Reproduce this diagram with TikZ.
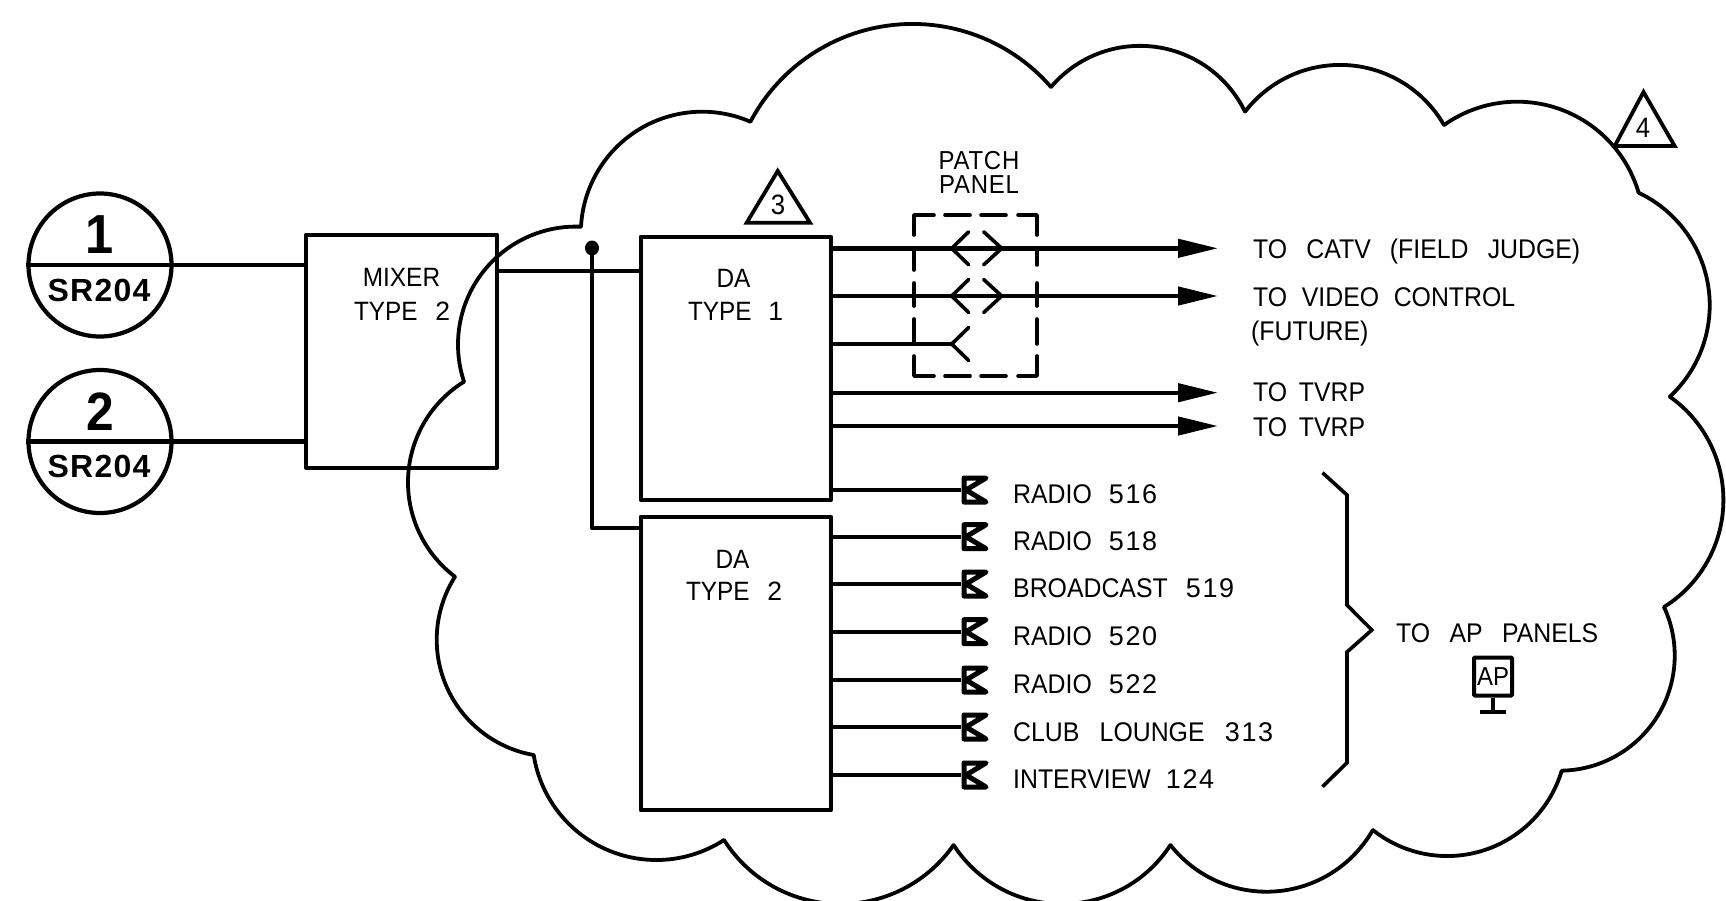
\documentclass[tikz,border=0pt]{standalone}
\usepackage{fontspec}
\usetikzlibrary{arrows.meta,calc}
\setmainfont[FakeStretch=0.92]{Liberation Sans}
\newfontfamily\digitfont[LetterSpace=6]{Liberation Sans}
\newfontfamily\srfont[LetterSpace=4]{Liberation Sans}
\newcommand{\gp}{\hspace{0pt plus 1fil minus 1fil}}
\newcommand{\fit}[2]{\makebox[#1pt][s]{#2}}
\newcommand{\dg}[1]{{\digitfont #1}}
\tikzset{
  x=1pt,y=-1pt,
  wire/.style={line width=4.4pt},
  boxnode/.style={draw,line width=4.2pt,rectangle,inner sep=0pt,anchor=north west,line join=round},
  lab/.style={font=\fontsize{27}{27}\selectfont,inner sep=0pt,anchor=base west,text=black},
  clab/.style={font=\fontsize{26.5}{26.5}\selectfont,inner sep=0pt,anchor=base,text=black},
  cloudline/.style={line width=3.8pt,line cap=round,line join=round},
  arrowed/.style={wire,-{Triangle[length=40pt,width=18pt]}},
  tri/.style={line width=3.8pt,line join=miter},
  pp/.style={line width=3.6pt,line cap=round,line join=round},
  jack/.style={line width=5pt,line cap=round,line join=round}
}
% circular arc through three points (px)
\newcommand{\cloudarc}[6]{%
  \pgfmathsetmacro{\bxr}{(#3-#1)/100}\pgfmathsetmacro{\byr}{(#4-#2)/100}%
  \pgfmathsetmacro{\cxr}{(#5-#1)/100}\pgfmathsetmacro{\cyr}{(#6-#2)/100}%
  \pgfmathsetmacro{\dt}{2*(\bxr*\cyr-\byr*\cxr)}%
  \pgfmathsetmacro{\bb}{\bxr*\bxr+\byr*\byr}\pgfmathsetmacro{\cc}{\cxr*\cxr+\cyr*\cyr}%
  \pgfmathsetmacro{\ux}{(\cyr*\bb-\byr*\cc)/\dt}\pgfmathsetmacro{\uy}{(\bxr*\cc-\cxr*\bb)/\dt}%
  \pgfmathsetmacro{\rr}{100*sqrt(\ux*\ux+\uy*\uy)}%
  \pgfmathsetmacro{\ctx}{#1+100*\ux}\pgfmathsetmacro{\cty}{#2+100*\uy}%
  \pgfmathsetmacro{\aa}{atan2(#2-\cty,#1-\ctx)}%
  \pgfmathsetmacro{\am}{atan2(#4-\cty,#3-\ctx)}%
  \pgfmathsetmacro{\ab}{atan2(#6-\cty,#5-\ctx)}%
  \pgfmathsetmacro{\dm}{mod(\am-\aa+720,360)}\pgfmathsetmacro{\db}{mod(\ab-\aa+720,360)}%
  \pgfmathsetmacro{\ae}{\dm<\db ? \aa+\db : \aa+\db-360}%
  \draw[cloudline] plot[domain=\aa:\ae,samples=60,variable=\t] ({\ctx+\rr*cos(\t)},{\cty+\rr*sin(\t)});%
}
\newcommand{\jacksym}[1]{%
  \draw[jack] ($(#1)+(3,-12)$) -- ($(#1)+(25,-12)$) -- ($(#1)+(5,0)$) -- ($(#1)+(25,12)$) -- ($(#1)+(3,12)$) -- cycle;%
}
\newcommand{\patchleft}[1]{\draw[pp] ($(#1)+(17,-16.5)$) -- (#1) -- ($(#1)+(17,16.5)$);}
\newcommand{\patchright}[1]{\draw[pp] ($(#1)+(-18,-16.5)$) -- (#1) -- ($(#1)+(-18,16.5)$);}
\begin{document}
\begin{tikzpicture}
\useasboundingbox (0,0) rectangle (1726,900);
% cloud
\cloudarc{581}{226.7}{703.6}{111.7}{750.4}{121.7}
\cloudarc{750.4}{121.7}{917.8}{24}{1051}{87}
\cloudarc{1051}{87}{1146}{46}{1245}{111.7}
\cloudarc{1245}{111.7}{1335}{65}{1444}{125}
\cloudarc{1444}{125}{1515}{101.7}{1638.6}{192.7}
\cloudarc{1638.6}{192.7}{1709.7}{306.7}{1669.8}{396.7}
\cloudarc{1669.8}{396.7}{1723.4}{500}{1664}{607}
\cloudarc{1664}{607}{1674.7}{653}{1561.7}{770.7}
\cloudarc{1561.7}{770.7}{1431.5}{855}{1372.8}{830}
\cloudarc{1372.8}{830}{1268.8}{891.7}{1170.4}{845}
\cloudarc{1170.4}{845}{1062}{904}{953.6}{845}
\cloudarc{953.6}{845}{842}{904}{724}{840}
\cloudarc{724}{840}{655}{860}{533.7}{755}
\cloudarc{533.7}{755}{436.7}{640}{455}{576.7}
\cloudarc{455}{576.7}{408}{480}{464}{381.7}
\cloudarc{464}{381.7}{458}{343}{581}{226.7}
% boxes
\node[boxnode,minimum width=191pt,minimum height=233pt] (mixer) at (304,232.5) {};
\node[boxnode,minimum width=190.5pt,minimum height=263pt] (da1) at (638.5,234.7) {};
\node[boxnode,minimum width=190.5pt,minimum height=293.5pt] (da2) at (638.5,514.7) {};
\node[clab] (mixt) at (401.5,286.7) {MIXER};
\node[clab] (mixb) at (402,320) {\fit{96}{TYPE\gp\dg{2}}};
\node[clab] (da1t) at (733.5,287.3) {DA};
\node[clab] (da1b) at (735.5,320.7) {\fit{95}{TYPE\gp\dg{1}}};
\node[clab] (da2t) at (732.5,568.3) {DA};
\node[clab] (da2b) at (734,600.7) {\fit{96}{TYPE\gp\dg{2}}};
% source circles
\node[draw,circle,line width=4.2pt,minimum size=143pt,inner sep=0pt] (c1) at (100,265) {};
\node[draw,circle,line width=4.2pt,minimum size=143pt,inner sep=0pt] (c2) at (100,441.5) {};
\draw[wire] (c1.west) -- (c1.east);
\draw[wire] (c2.west) -- (c2.east);
\node[inner sep=0pt,font=\fontsize{55}{55}\selectfont\bfseries] (n1) at (100,235) {1};
\node[inner sep=0pt,font=\fontsize{54}{54}\selectfont\bfseries] (n2) at (100,412) {2};
\node[inner sep=0pt,font=\fontsize{32}{32}\selectfont\srfont\bfseries] (s1) at (99,290) {SR204};
\node[inner sep=0pt,font=\fontsize{32}{32}\selectfont\srfont\bfseries] (s2) at (99,466) {SR204};
\draw[wire] (c1.east) -- (c1.east -| mixer.west);
\draw[wire] (c2.east) -- (c2.east -| mixer.west);
% mixer to DA
\coordinate (inA) at (da1.west |- 0,270.7);
\coordinate (inB) at (da2.west |- 0,528);
\coordinate (dot) at (592,248);
\coordinate (corner) at (592,528);
\draw[wire] (mixer.east |- inA) -- (inA);
\draw[wire,line join=round] (dot) -- (corner) -- (inB);
\fill (dot) ellipse [x radius=7pt,y radius=7.5pt];
% triangles
\node[inner sep=0pt,font=\fontsize{28}{28}\selectfont] (t3) at (778,205) {3};
\draw[tri] (777.7,171) -- (810,222.7) -- (746.7,222.7) -- cycle;
\node[inner sep=0pt,font=\fontsize{28}{28}\selectfont] (t4) at (1643,128) {4};
\draw[tri] (1643.5,92) -- (1674.6,146) -- (1614.7,146) -- cycle;
% patch panel
\node[clab,font=\fontsize{26}{26}\selectfont] (ppa) at (979,169.3) {\addfontfeature{LetterSpace=3}PATCH};
\node[clab,font=\fontsize{26}{26}\selectfont] (ppb) at (979,193.3) {\addfontfeature{LetterSpace=3}PANEL};
\draw[pp] (934,215) -- (914,215) -- (914,235);
\draw[pp] (945,215) -- (970,215);
\draw[pp] (981,215) -- (1006,215);
\draw[pp] (1018,215) -- (1037,215) -- (1037,235);
\draw[pp] (1037,250) -- (1037,265);
\draw[pp] (914,250) -- (914,270);
\draw[pp] (914,283) -- (914,306);
\draw[pp] (1037,283) -- (1037,306);
\draw[pp] (914,319) -- (914,344);
\draw[pp] (1037,319) -- (1037,344);
\draw[pp] (914,356) -- (914,376) -- (934,376);
\draw[pp] (1037,356) -- (1037,376) -- (1018,376);
\draw[pp] (945,376) -- (970,376);
\draw[pp] (981,376) -- (1006,376);
% outgoing arrows
\coordinate (a1) at (1218,248.3);
\coordinate (a2) at (1218,296);
\coordinate (a3) at (1218,392.7);
\coordinate (a4) at (1218,426);
\coordinate (v3) at (951.7,344);
\draw[arrowed] (da1.east |- a1) -- (a1);
\draw[arrowed] (da1.east |- a2) -- (a2);
\draw[wire] (da1.east |- v3) -- (v3);
\draw[arrowed] (da1.east |- a3) -- (a3);
\draw[arrowed] (da1.east |- a4) -- (a4);
\coordinate (v1l) at (951.7,248.3);
\coordinate (v2l) at (951.7,296);
\coordinate (v1r) at (1001.7,248.3);
\coordinate (v2r) at (1001.7,296);
\patchleft{v1l}\patchleft{v2l}\patchleft{v3}\patchright{v1r}\patchright{v2r}
\node[lab] (l1) at (1253,258.3) {\fit{327}{TO\gp CATV\gp(FIELD\gp JUDGE)}};
\node[lab] (l2) at (1253,306.7) {\fit{262}{TO\gp VIDEO\gp CONTROL}};
\node[lab] (l3) at (1251,340) {(FUTURE)};
\node[lab] (l4) at (1253,401.7) {\fit{112}{TO\gp TVRP}};
\node[lab] (l5) at (1253,436.7) {\fit{112}{TO\gp TVRP}};
% AP lines
\coordinate (j1) at (961,490);
\coordinate (j2) at (961,536.7);
\coordinate (j3) at (961,584);
\coordinate (j4) at (961,631.7);
\coordinate (j5) at (961,680);
\coordinate (j6) at (961,727);
\coordinate (j7) at (961,775);
\draw[wire] (da1.east |- j1) -- (j1);
\foreach \j in {j2,j3,j4,j5,j6,j7}{\draw[wire] (da2.east |- \j) -- (\j);}
\foreach \j in {j1,j2,j3,j4,j5,j6,j7}{\jacksym{\j}}
\node[lab] (r1) at (1013,503.3) {\fit{144}{RADIO\gp\dg{516}}};
\node[lab] (r2) at (1013,550) {\fit{144}{RADIO\gp\dg{518}}};
\node[lab] (r3) at (1013,597.7) {\fit{221}{BROADCAST\gp\dg{519}}};
\node[lab] (r4) at (1013,645.7) {\fit{144}{RADIO\gp\dg{520}}};
\node[lab] (r5) at (1013,693.3) {\fit{144}{RADIO\gp\dg{522}}};
\node[lab] (r6) at (1013,741) {\fit{260}{CLUB\gp LOUNGE\gp\dg{313}}};
\node[lab] (r7) at (1013,788.3) {\fit{201}{INTERVIEW\gp\dg{124}}};
% brace
\draw[line width=3.6pt,line join=miter] (1322.5,472.7) -- (1347,495) -- (1347,605) -- (1371.8,630) -- (1347,652) -- (1347,762.7) -- (1322.5,786.7);
\node[lab] (ap) at (1396,642.3) {\fit{202}{TO\gp AP\gp PANELS}};
\node[draw,line width=4pt,inner sep=0pt,minimum width=38pt,minimum height=38pt,rounded corners=1pt,font=\fontsize{26}{26}\selectfont] (apb) at (1493,676.5) {AP};
\coordinate (apf) at (1493,712);
\draw[line width=3.6pt] (apb.south) -- (apf);
\draw[line width=4pt] (1480,712) -- (1506,712);
\end{tikzpicture}
\end{document}
